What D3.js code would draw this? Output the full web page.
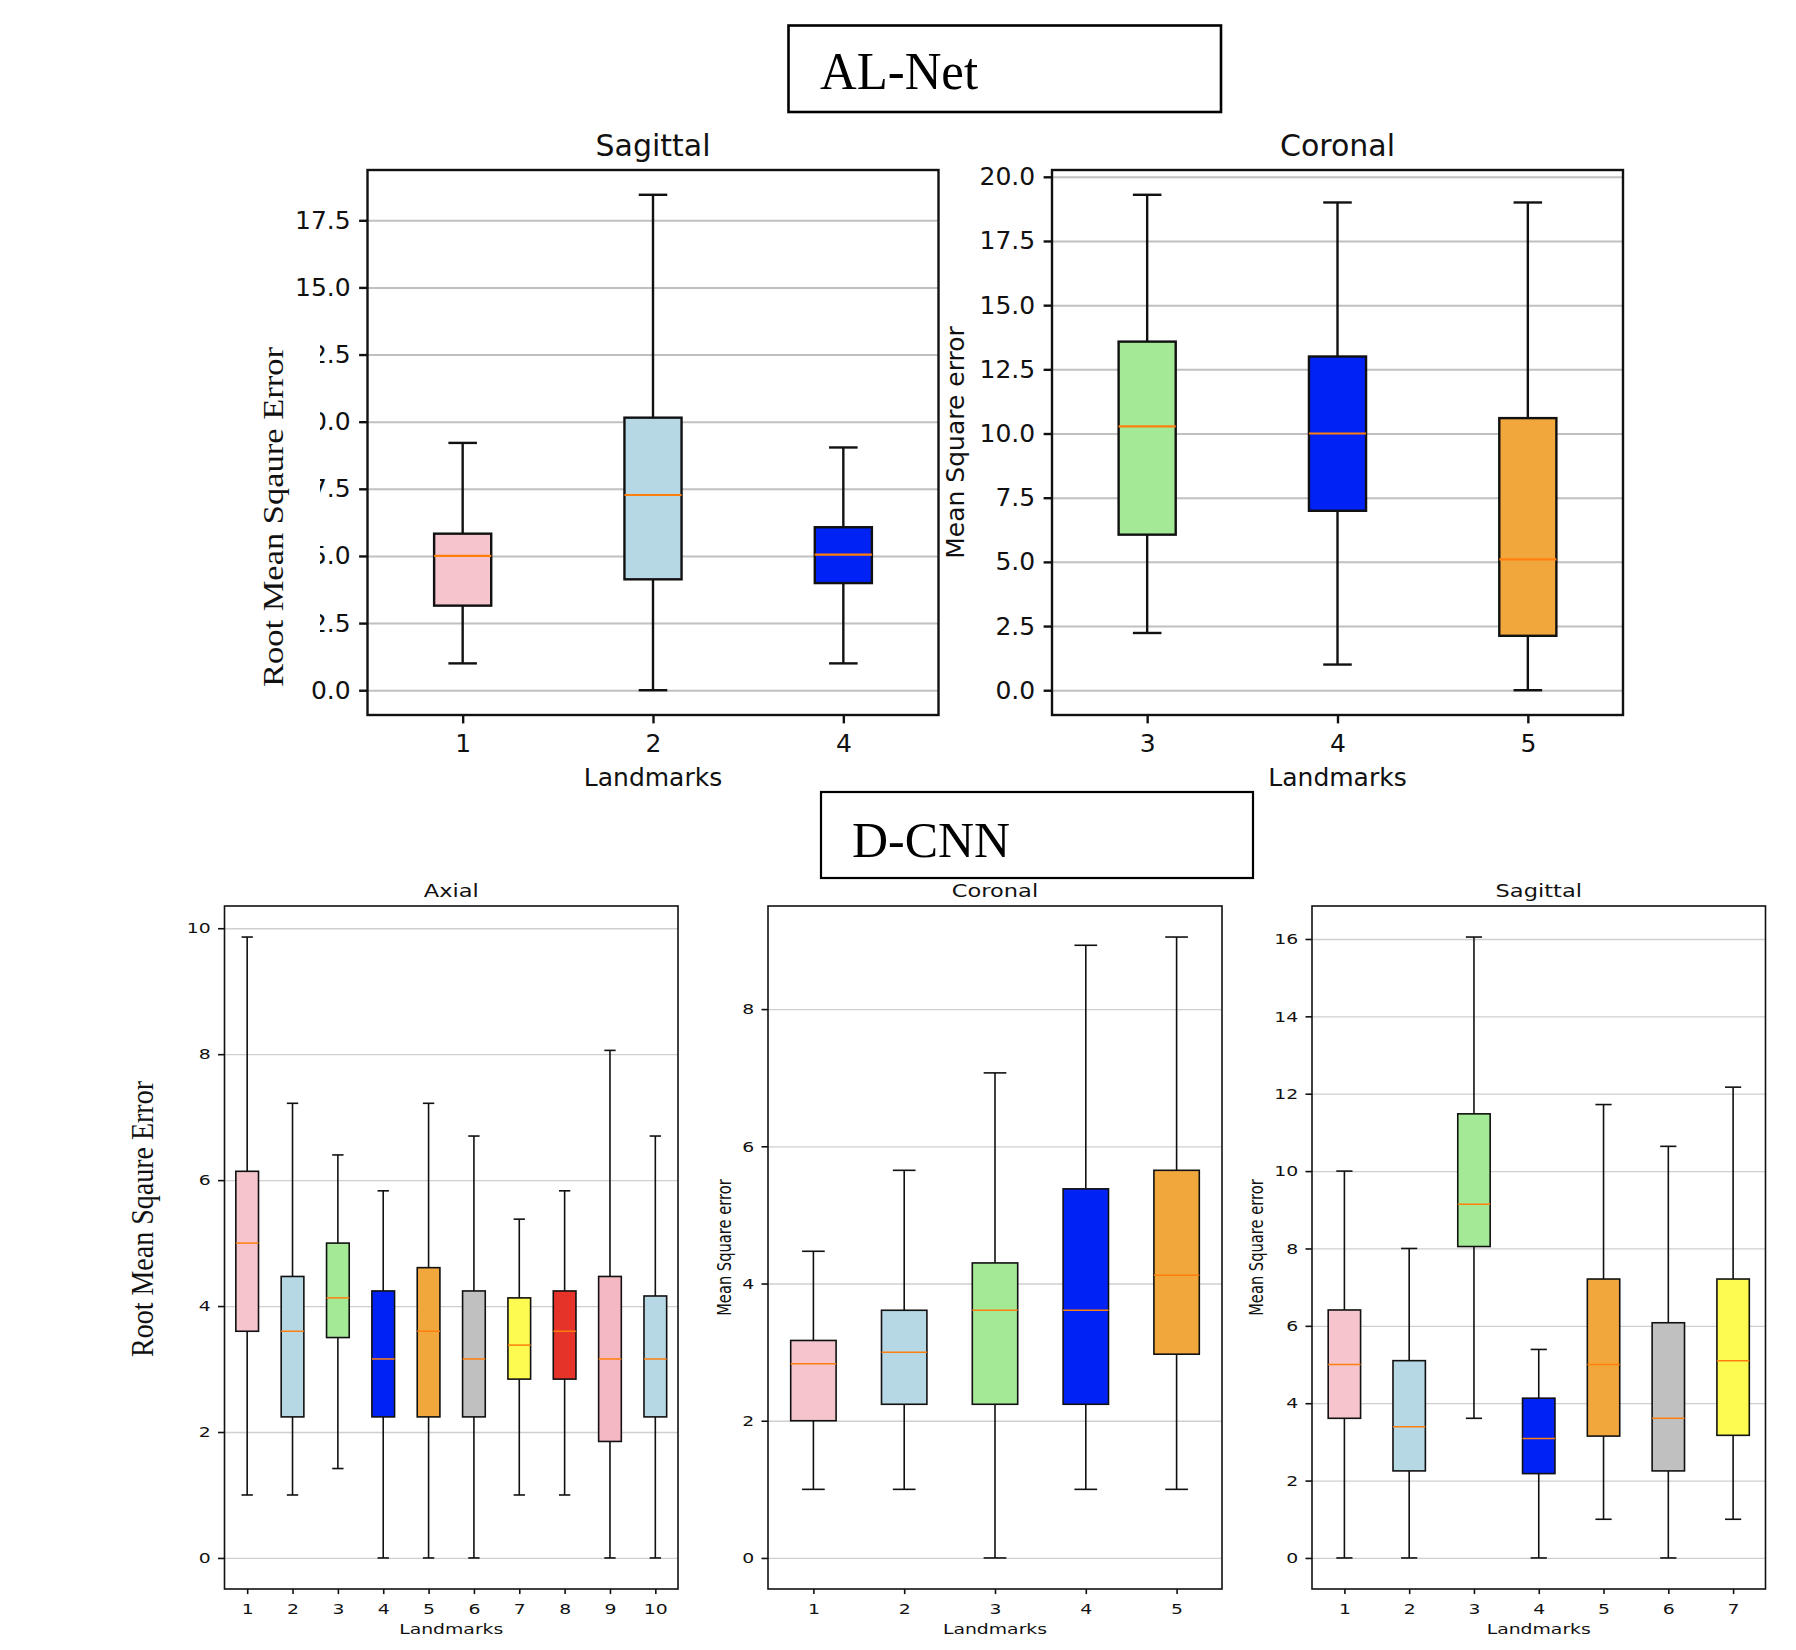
<!DOCTYPE html>
<html>
<head>
<meta charset="utf-8">
<script src="https://cdn.jsdelivr.net/npm/d3@7"></script>
<style>
  body { margin: 0; background: #fff; }
  svg text { font-family: "DejaVu Sans", sans-serif; fill: #111; }
</style>
</head>
<body>
<div id="chart"></div>
<script>
// ---- AL-Net, sagittal ----
const alSagLabels = ["1", "2", "4"];
const alSagLow  = [1.0, 0.0, 1.0];
const alSagQ1   = [3.15, 4.13, 3.99];
const alSagMed  = [5.0, 7.27, 5.05];
const alSagQ3   = [5.83, 10.15, 6.07];
const alSagHigh = [9.21, 18.45, 9.04];
const alSagTicks = [0, 2.5, 5, 7.5, 10, 12.5, 15, 17.5];

// ---- AL-Net, coronal ----
const alCorLabels = ["3", "4", "5"];
const alCorLow  = [2.23, 1.0, 0.0];
const alCorQ1   = [6.06, 6.99, 2.12];
const alCorMed  = [10.28, 10.0, 5.1];
const alCorQ3   = [13.58, 13.0, 10.6];
const alCorHigh = [19.3, 19.0, 19.0];
const alCorTicks = [0, 2.5, 5, 7.5, 10, 12.5, 15, 17.5, 20];

// ---- D-CNN, axial ----
const dAxLabels = ["1", "2", "3", "4", "5", "6", "7", "8", "9", "10"];
const dAxLow  = [1.0, 1.0, 1.42, 0, 0, 0, 1.0, 1.0, 0, 0];
const dAxQ1   = [3.6, 2.24, 3.5, 2.24, 2.24, 2.24, 2.84, 2.84, 1.85, 2.24];
const dAxMed  = [5.0, 3.6, 4.13, 3.16, 3.6, 3.16, 3.38, 3.6, 3.16, 3.16];
const dAxQ3   = [6.14, 4.47, 5.0, 4.24, 4.61, 4.24, 4.13, 4.24, 4.47, 4.16];
const dAxHigh = [9.86, 7.22, 6.4, 5.83, 7.22, 6.7, 5.38, 5.83, 8.06, 6.7];
const dAxTicks = [0, 2, 4, 6, 8, 10];

// ---- D-CNN, coronal ----
const dCorLabels = ["1", "2", "3", "4", "5"];
const dCorLow  = [1.0, 1.0, 0, 1.0, 1.0];
const dCorQ1   = [2.0, 2.24, 2.24, 2.24, 2.97];
const dCorMed  = [2.83, 3.0, 3.61, 3.61, 4.12];
const dCorQ3   = [3.17, 3.61, 4.3, 5.38, 5.65];
const dCorHigh = [4.47, 5.65, 7.07, 8.93, 9.05];
const dCorTicks = [0, 2, 4, 6, 8];

// ---- D-CNN, sagittal ----
const dSagLabels = ["1", "2", "3", "4", "5", "6", "7"];
const dSagLow  = [0, 0, 3.61, 0, 1.0, 0, 1.0];
const dSagQ1   = [3.61, 2.25, 8.05, 2.18, 3.15, 2.25, 3.17];
const dSagMed  = [5.0, 3.39, 9.14, 3.09, 5.0, 3.61, 5.1];
const dSagQ3   = [6.41, 5.1, 11.48, 4.13, 7.21, 6.08, 7.21];
const dSagHigh = [10.0, 8.0, 16.05, 5.39, 11.72, 10.64, 12.17];
const dSagTicks = [0, 2, 4, 6, 8, 10, 12, 14, 16];

// box colours
const pink = "#f5c4cc", lblue = "#b5d8e4", lgreen = "#a4e996", blue = "#0022f5",
      orange = "#f1a73c", silver = "#c0c0c0", yellow = "#fefb50", red = "#e6332a";

const svg = d3.select("#chart").append("svg")
  .attr("width", 1796)
  .attr("height", 1650);

// style for each figure (the D-CNN one is stretched sideways)
const alStyle = {
  font: 25, titleFont: 30, sx: 1, tickLen: 8.4, tickPad: 8.4,
  lineW: 2.4, gridW: 2, gridColor: "#c0c0c0", medW: 2.2,
  titleOff: 14, xTickOff: 37, xLabelOff: 71
};
const dStyle = {
  font: 14.7, titleFont: 17.6, sx: 1.28, tickLen: 5.1, tickPad: 5.6,
  lineW: 1.6, gridW: 1.3, gridColor: "#cfcfcf", medW: 1.5,
  titleOff: 9, xTickOff: 25, xLabelOff: 45
};

function panel(cfg, st) {
  const n = cfg.labels.length;
  const { left, right, top, bottom } = cfg;
  const x = d3.scaleLinear().domain([0.5, n + 0.5]).range([left, right]);
  const lo = d3.min(cfg.low), hi = d3.max(cfg.high), m = (hi - lo) * 0.05;
  const y = d3.scaleLinear().domain([lo - m, hi + m]).range([bottom, top]);
  const g = svg.append("g");

  // horizontal grid
  const grid = g.append("g")
    .attr("transform", `translate(${left},0)`)
    .call(d3.axisLeft(y).tickValues(cfg.ticks).tickSize(-(right - left)).tickFormat(""));
  grid.select(".domain").remove();
  grid.selectAll("line").attr("stroke", st.gridColor).attr("stroke-width", st.gridW);

  // matplotlib default box width
  const wFrac = Math.min(0.5, Math.max(0.15, 0.15 * (n - 1)));
  const bw = (x(1 + wFrac) - x(1)) / 2;   // half box width
  const idx = d3.range(n);
  const boxes = g.append("g");

  // whiskers and caps
  idx.forEach(i => {
    const cx = x(i + 1);
    boxes.append("line").attr("x1", cx).attr("x2", cx)
      .attr("y1", y(cfg.high[i])).attr("y2", y(cfg.q3[i]));
    boxes.append("line").attr("x1", cx).attr("x2", cx)
      .attr("y1", y(cfg.q1[i])).attr("y2", y(cfg.low[i]));
    [cfg.high[i], cfg.low[i]].forEach(v => {
      boxes.append("line").attr("x1", cx - bw / 2).attr("x2", cx + bw / 2)
        .attr("y1", y(v)).attr("y2", y(v));
    });
  });
  boxes.selectAll("line").attr("stroke", "#111").attr("stroke-width", st.lineW);

  boxes.selectAll("rect.box").data(idx).join("rect")
    .attr("class", "box")
    .attr("x", i => x(i + 1) - bw)
    .attr("width", bw * 2)
    .attr("y", i => y(cfg.q3[i]))
    .attr("height", i => y(cfg.q1[i]) - y(cfg.q3[i]))
    .attr("fill", i => cfg.colors[i])
    .attr("stroke", "#111")
    .attr("stroke-width", st.lineW);

  boxes.selectAll("line.med").data(idx).join("line")
    .attr("class", "med")
    .attr("x1", i => x(i + 1) - bw)
    .attr("x2", i => x(i + 1) + bw)
    .attr("y1", i => y(cfg.med[i]))
    .attr("y2", i => y(cfg.med[i]))
    .attr("stroke", "#ff7f0e")
    .attr("stroke-width", st.medW);

  // frame
  g.append("rect")
    .attr("x", left).attr("y", top)
    .attr("width", right - left).attr("height", bottom - top)
    .attr("fill", "none").attr("stroke", "#111").attr("stroke-width", st.lineW);

  // y axis
  const ya = g.append("g")
    .attr("transform", `translate(${left},0)`)
    .call(d3.axisLeft(y).tickValues(cfg.ticks).tickSize(st.tickLen * st.sx).tickFormat(cfg.fmt));
  ya.select(".domain").remove();
  ya.selectAll("line").attr("stroke", "#111").attr("stroke-width", st.lineW);
  ya.selectAll("text")
    .attr("font-size", st.font)
    .attr("fill", "#111")
    .attr("x", -(st.tickLen + st.tickPad))
    .attr("transform", `scale(${st.sx},1)`);

  // x axis
  const xa = g.append("g")
    .attr("transform", `translate(0,${bottom})`)
    .call(d3.axisBottom(x).tickValues(idx.map(i => i + 1)).tickSize(st.tickLen)
      .tickFormat(v => cfg.labels[v - 1]));
  xa.select(".domain").remove();
  xa.selectAll("line").attr("stroke", "#111").attr("stroke-width", st.lineW);
  xa.selectAll("text")
    .attr("font-size", st.font)
    .attr("fill", "#111")
    .attr("y", st.xTickOff).attr("dy", 0)
    .attr("transform", `scale(${st.sx},1)`);

  const cx = (left + right) / 2;
  g.append("text")
    .attr("transform", `translate(${cx},${bottom + st.xLabelOff}) scale(${st.sx},1)`)
    .attr("text-anchor", "middle").attr("font-size", st.font)
    .text("Landmarks");

  g.append("text")
    .attr("transform", `translate(${cx},${top - st.titleOff}) scale(${st.sx},1)`)
    .attr("text-anchor", "middle").attr("font-size", st.titleFont)
    .text(cfg.title);

  if (cfg.ylabel) {
    g.append("text")
      .attr("transform", `translate(${cfg.ylabelX},${(top + bottom) / 2}) scale(${st.sx},1) rotate(-90)`)
      .attr("text-anchor", "middle").attr("font-size", st.font)
      .text(cfg.ylabel);
  }
}

const f1 = d3.format(".1f");
const f0 = d3.format("d");

panel({ title: "Sagittal", left: 367.5, right: 938.5, top: 170, bottom: 715,
  labels: alSagLabels, low: alSagLow, q1: alSagQ1, med: alSagMed, q3: alSagQ3, high: alSagHigh,
  ticks: alSagTicks, fmt: f1, colors: [pink, lblue, blue] }, alStyle);

panel({ title: "Coronal", left: 1052, right: 1623, top: 170, bottom: 715,
  labels: alCorLabels, low: alCorLow, q1: alCorQ1, med: alCorMed, q3: alCorQ3, high: alCorHigh,
  ticks: alCorTicks, fmt: f1, colors: [lgreen, blue, orange],
  ylabel: "Mean Square error", ylabelX: 964 }, alStyle);

panel({ title: "Axial", left: 224.5, right: 678, top: 906, bottom: 1589,
  labels: dAxLabels, low: dAxLow, q1: dAxQ1, med: dAxMed, q3: dAxQ3, high: dAxHigh,
  ticks: dAxTicks, fmt: f0,
  colors: [pink, lblue, lgreen, blue, orange, silver, yellow, red, "#f4b8c2", lblue] }, dStyle);

panel({ title: "Coronal", left: 768, right: 1222, top: 906, bottom: 1589,
  labels: dCorLabels, low: dCorLow, q1: dCorQ1, med: dCorMed, q3: dCorQ3, high: dCorHigh,
  ticks: dCorTicks, fmt: f0, colors: [pink, lblue, lgreen, blue, orange],
  ylabel: "Mean Square error", ylabelX: 731 }, dStyle);

panel({ title: "Sagittal", left: 1312, right: 1765.5, top: 906, bottom: 1589,
  labels: dSagLabels, low: dSagLow, q1: dSagQ1, med: dSagMed, q3: dSagQ3, high: dSagHigh,
  ticks: dSagTicks, fmt: f0, colors: [pink, lblue, lgreen, blue, orange, silver, yellow],
  ylabel: "Mean Square error", ylabelX: 1263 }, dStyle);

// pasted-on labels (serif) over the left axes
svg.append("rect")
  .attr("x", 228).attr("y", 318).attr("width", 92).attr("height", 342)
  .attr("fill", "#fff");

const serif = "'Liberation Serif', 'Times New Roman', serif";
svg.append("text")
  .attr("transform", "translate(283,517) rotate(-90)")
  .attr("text-anchor", "middle")
  .style("font-family", serif).attr("font-size", 29)
  .attr("textLength", 340).attr("lengthAdjust", "spacingAndGlyphs")
  .text("Root Mean Sqaure Error");

svg.append("text")
  .attr("transform", "translate(153,1219) rotate(-90)")
  .attr("text-anchor", "middle")
  .style("font-family", serif).attr("font-size", 31)
  .attr("textLength", 276).attr("lengthAdjust", "spacingAndGlyphs")
  .text("Root Mean Sqaure Error");

// header boxes
svg.append("rect")
  .attr("x", 788.5).attr("y", 25.5).attr("width", 432.5).attr("height", 86.5)
  .attr("fill", "none").attr("stroke", "#000").attr("stroke-width", 2.6);
svg.append("text")
  .attr("x", 820).attr("y", 89)
  .style("font-family", serif).attr("font-size", 53).style("fill", "#000")
  .attr("textLength", 158).attr("lengthAdjust", "spacingAndGlyphs")
  .text("AL-Net");

svg.append("rect")
  .attr("x", 821).attr("y", 792).attr("width", 432).attr("height", 86)
  .attr("fill", "none").attr("stroke", "#000").attr("stroke-width", 2.2);
svg.append("text")
  .attr("x", 852).attr("y", 857)
  .style("font-family", serif).attr("font-size", 51).style("fill", "#000")
  .attr("textLength", 158).attr("lengthAdjust", "spacingAndGlyphs")
  .text("D-CNN");
</script>
</body>
</html>
